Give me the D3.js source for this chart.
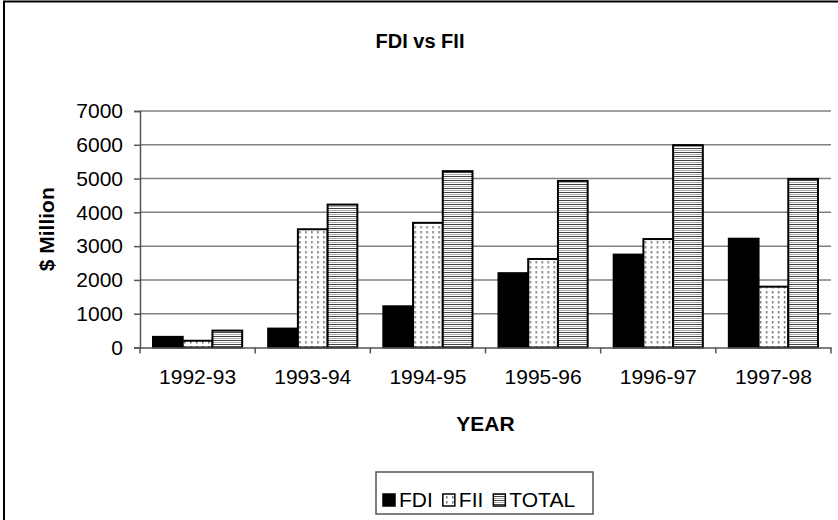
<!DOCTYPE html>
<html>
<head>
<meta charset="utf-8">
<script src="https://cdn.jsdelivr.net/npm/d3@7"></script>
<style>
  body { margin: 0; background: #fff; }
  svg { display: block; font-family: "Liberation Sans", Arial, sans-serif; }
</style>
</head>
<body>
<svg width="838" height="520"></svg>
<script>
var years = ['1992-93', '1993-94', '1994-95', '1995-96', '1996-97', '1997-98']
var series = ['FDI', 'FII', 'TOTAL']
var fdi = [315, 560, 1220, 2200, 2750, 3220]
var fii = [200, 3500, 3690, 2620, 3210, 1800]
var total = [500, 4230, 5220, 4930, 5990, 4990]
var yTicks = [0, 1000, 2000, 3000, 4000, 5000, 6000, 7000]

var values = { FDI: fdi, FII: fii, TOTAL: total }

var svg = d3.select('svg')

// patterns for the bar fills
var defs = svg.append('defs')
var dots = defs.append('pattern')
    .attr('id', 'dots')
    .attr('patternUnits', 'userSpaceOnUse')
    .attr('width', 6).attr('height', 5)
dots.append('rect').attr('width', 6).attr('height', 5).attr('fill', '#fff')
dots.append('rect').attr('x', 2).attr('y', 1).attr('width', 1.5).attr('height', 2.5).attr('fill', '#777')

var stripes = defs.append('pattern')
    .attr('id', 'stripes')
    .attr('patternUnits', 'userSpaceOnUse')
    .attr('width', 8).attr('height', 4)
stripes.append('rect').attr('width', 8).attr('height', 4).attr('fill', '#fff')
stripes.append('rect').attr('y', 0).attr('width', 8).attr('height', 1).attr('fill', '#444')
stripes.append('rect').attr('y', 2).attr('width', 8).attr('height', 1).attr('fill', '#aaa')

var fills = { FDI: '#000', FII: 'url(#dots)', TOTAL: 'url(#stripes)' }

// outer frame
svg.append('rect')
    .attr('x', 4).attr('y', 1.5)
    .attr('width', 850).attr('height', 530)
    .attr('fill', 'none')
    .attr('stroke', '#000')
    .attr('stroke-width', 2)

var plotLeft = 140, plotRight = 831, plotTop = 111, plotBottom = 347.5

var x0 = d3.scaleBand().domain(years).range([plotLeft, plotRight]).padding(0)
var gap = 26
var x1 = d3.scaleBand().domain(series).range([gap / 2, x0.bandwidth() - gap / 2]).padding(0)
var y = d3.scaleLinear().domain([0, 7000]).range([plotBottom, plotTop])

// grid lines
svg.append('g')
    .selectAll('line')
    .data(yTicks.slice(1))
    .enter().append('line')
    .attr('x1', plotLeft).attr('x2', plotRight)
    .attr('y1', d => y(d)).attr('y2', d => y(d))
    .attr('stroke', '#808080')
    .attr('stroke-width', 1.5)

// y axis
var yAxis = svg.append('g')
    .attr('transform', `translate(${plotLeft},0)`)
    .call(d3.axisLeft(y).tickValues(yTicks).tickSize(6).tickPadding(11).tickFormat(d3.format('d')))
yAxis.select('.domain').attr('stroke', '#555').attr('stroke-width', 1.5)
yAxis.selectAll('.tick line').attr('stroke', '#555').attr('stroke-width', 1.5)
yAxis.selectAll('text').attr('font-size', 21).attr('fill', '#000')
    .attr('font-family', '"Liberation Sans", Arial, sans-serif')

// bars
var groups = svg.append('g')
    .selectAll('g')
    .data(years)
    .enter().append('g')
    .attr('transform', d => `translate(${x0(d)},0)`)

groups.selectAll('rect')
    .data((d, i) => series.map(s => ({ key: s, value: values[s][i] })))
    .enter().append('rect')
    .attr('x', d => x1(d.key))
    .attr('y', d => y(d.value))
    .attr('width', x1.bandwidth())
    .attr('height', d => y(0) - y(d.value))
    .attr('fill', d => fills[d.key])
    .attr('stroke', '#000')
    .attr('stroke-width', 2)

// x axis
var xAxis = svg.append('g')
    .attr('transform', `translate(0,${plotBottom})`)
    .call(d3.axisBottom(x0).tickSize(0).tickPadding(22))
xAxis.select('.domain').attr('stroke', '#555').attr('stroke-width', 1.5)
xAxis.selectAll('text').attr('font-size', 21).attr('fill', '#000')
    .attr('font-family', '"Liberation Sans", Arial, sans-serif')

// tick marks between categories
var boundaries = years.map(d => x0(d)).concat([plotRight])
xAxis.selectAll('.sep')
    .data(boundaries)
    .enter().append('line')
    .attr('class', 'sep')
    .attr('x1', d => d).attr('x2', d => d)
    .attr('y1', 0).attr('y2', 6)
    .attr('stroke', '#555')
    .attr('stroke-width', 1.5)

// titles
svg.append('text')
    .attr('x', 420).attr('y', 48)
    .attr('text-anchor', 'middle')
    .attr('font-size', 20).attr('font-weight', 'bold')
    .text('FDI vs FII')

svg.append('text')
    .attr('x', (plotLeft + plotRight) / 2).attr('y', 431)
    .attr('text-anchor', 'middle')
    .attr('font-size', 21).attr('font-weight', 'bold')
    .text('YEAR')

svg.append('text')
    .attr('transform', `translate(54,${(plotTop + plotBottom) / 2}) rotate(-90)`)
    .attr('text-anchor', 'middle')
    .attr('font-size', 21).attr('font-weight', 'bold')
    .text('$ Million')

// legend
var legend = svg.append('g')
legend.append('rect')
    .attr('x', 376).attr('y', 472)
    .attr('width', 217).attr('height', 42)
    .attr('fill', '#fff')
    .attr('stroke', '#555')
    .attr('stroke-width', 1.5)

var lx = 383
series.forEach(function (s) {
    legend.append('rect')
        .attr('x', lx).attr('y', 494)
        .attr('width', 12).attr('height', 12)
        .attr('fill', fills[s])
        .attr('stroke', '#000')
        .attr('stroke-width', 1.5)
    var t = legend.append('text')
        .attr('x', lx + 16).attr('y', 506.5)
        .attr('font-size', 21)
        .text(s)
    lx = lx + 16 + t.node().getComputedTextLength() + 10
})
</script>
</body>
</html>
